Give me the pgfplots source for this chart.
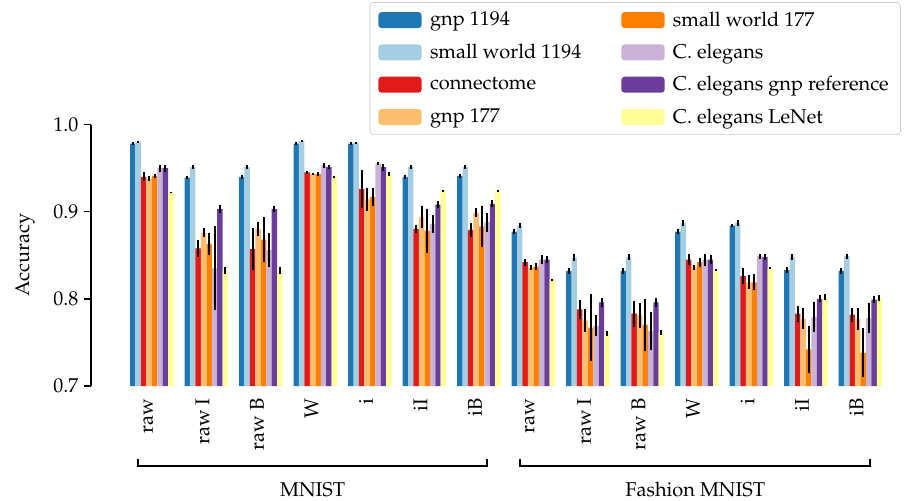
\documentclass[border=0pt]{standalone}
\usepackage[T1]{fontenc}
\usepackage{mathpazo}
\usepackage{pgfplots}
\usepackage{pgfplotstable}
\pgfplotsset{compat=1.18}

\definecolor{cA}{HTML}{1F78B4}
\definecolor{cB}{HTML}{A6CEE3}
\definecolor{cC}{HTML}{E31A1C}
\definecolor{cD}{HTML}{FDBF6F}
\definecolor{cE}{HTML}{FF7F00}
\definecolor{cF}{HTML}{CAB2D6}
\definecolor{cG}{HTML}{6A3D9A}
\definecolor{cH}{HTML}{FFFF99}

% gnp 1194
\pgfplotstableread{
x y e
0 0.978 0.0015
1 0.939 0.002
2 0.940 0.002
3 0.978 0.002
4 0.978 0.0015
5 0.940 0.002
6 0.941 0.002
7 0.877 0.003
8 0.832 0.003
9 0.832 0.003
10 0.877 0.003
11 0.884 0.002
12 0.833 0.003
13 0.832 0.003
}\tA
% small world 1194
\pgfplotstableread{
x y e
0 0.980 0.001
1 0.951 0.002
2 0.951 0.002
3 0.981 0.001
4 0.979 0.001
5 0.951 0.002
6 0.951 0.002
7 0.884 0.003
8 0.847 0.004
9 0.848 0.003
10 0.887 0.003
11 0.887 0.003
12 0.848 0.003
13 0.849 0.003
}\tB
% connectome
\pgfplotstableread{
x y e
0 0.940 0.005
1 0.858 0.010
2 0.857 0.024
3 0.945 0.002
4 0.926 0.022
5 0.880 0.005
6 0.879 0.008
7 0.842 0.004
8 0.788 0.011
9 0.783 0.015
10 0.845 0.006
11 0.826 0.009
12 0.783 0.009
13 0.782 0.008
}\tC
% gnp 177
\pgfplotstableread{
x y e
0 0.938 0.003
1 0.876 0.005
2 0.880 0.008
3 0.943 0.001
4 0.914 0.013
5 0.894 0.013
6 0.899 0.005
7 0.836 0.003
8 0.775 0.013
9 0.781 0.014
10 0.836 0.003
11 0.819 0.008
12 0.777 0.012
13 0.777 0.013
}\tD
% small world 177
\pgfplotstableread{
x y e
0 0.941 0.002
1 0.863 0.013
2 0.868 0.026
3 0.943 0.002
4 0.917 0.010
5 0.878 0.025
6 0.883 0.023
7 0.837 0.004
8 0.767 0.038
9 0.770 0.030
10 0.842 0.005
11 0.819 0.009
12 0.742 0.027
13 0.738 0.028
}\tE
% C. elegans
\pgfplotstableread{
x y e
0 0.950 0.004
1 0.835 0.048
2 0.856 0.019
3 0.953 0.003
4 0.955 0.002
5 0.886 0.010
6 0.888 0.011
7 0.845 0.005
8 0.769 0.012
9 0.763 0.022
10 0.845 0.007
11 0.849 0.003
12 0.779 0.017
13 0.778 0.017
}\tF
% C. elegans gnp reference
\pgfplotstableread{
x y e
0 0.950 0.004
1 0.903 0.005
2 0.903 0.003
3 0.951 0.002
4 0.951 0.004
5 0.908 0.004
6 0.909 0.004
7 0.845 0.004
8 0.796 0.005
9 0.796 0.005
10 0.845 0.005
11 0.848 0.003
12 0.800 0.004
13 0.799 0.004
}\tG
% C. elegans LeNet
\pgfplotstableread{
x y e
0 0.922 0.001
1 0.832 0.004
2 0.833 0.004
3 0.940 0.001
4 0.943 0.002
5 0.924 0.001
6 0.924 0.001
7 0.822 0.001
8 0.760 0.003
9 0.761 0.003
10 0.833 0.001
11 0.835 0.001
12 0.802 0.003
13 0.801 0.003
}\tH

\pgfplotsset{
  mybar/.style={fill=#1, draw=none,
    legend image code/.code={\fill[##1] (0pt,-4.8pt) rectangle (26pt,4.8pt);},
    error bars/y dir=both, error bars/y explicit, error bars/error mark=none,
    error bars/error bar style={line width=1.2pt, black}},
}

\begin{document}
\begin{tikzpicture}[font=\fontsize{12}{14.4}\selectfont]
\begin{axis}[
  name=ax,
  scale only axis,
  width=487.8pt, height=156.9pt,
  xmin=-1.116, xmax=13.80,
  ymin=0.7, ymax=1.0,
  axis y line*=left, axis x line*=bottom,
  x axis line style={draw=none},
  axis line style={line width=0.8pt},
  tick align=outside,
  major tick length=4pt,
  ytick={0.7,0.8,0.9,1.0},
  y tick label style={/pgf/number format/.cd, fixed, fixed zerofill, precision=1, /tikz/.cd},
  ytick style={line width=0.8pt, black},
  xtick={-0.07,0.93,1.93,2.93,3.93,4.93,5.93,6.93,7.93,8.93,9.93,10.93,11.93,12.93},
  xticklabels={raw,raw I,raw B,W,i,iI,iB,raw,raw I,raw B,W,i,iI,iB},
  xtick style={draw=none},
  xticklabel style={rotate=90, anchor=east},
  ylabel={Accuracy},
  ylabel style={at={(axis description cs:-0.0812,0.5)}, anchor=center},
  ybar, bar width=0.1,
  legend columns=2,
  legend cell align=left,
  legend style={at={(0.996,1.468)}, anchor=north east,
    draw=black!20, rounded corners=2pt, fill=white,
    inner xsep=5pt, inner ysep=3.5pt,
    /tikz/every even column/.append style={column sep=22pt},
    /tikz/every odd column/.append style={column sep=3pt},
    row sep=5.2pt},
]
\addplot[mybar=cA, bar shift=-0.35] table[x=x,y=y,y error=e]{\tA};
\addlegendentry{gnp 1194}
\addplot[mybar=cE, bar shift=0.05] table[x=x,y=y,y error=e]{\tE};
\addlegendentry{small world 177}
\addplot[mybar=cB, bar shift=-0.25] table[x=x,y=y,y error=e]{\tB};
\addlegendentry{small world 1194}
\addplot[mybar=cF, bar shift=0.15] table[x=x,y=y,y error=e]{\tF};
\addlegendentry{C. elegans}
\addplot[mybar=cC, bar shift=-0.15] table[x=x,y=y,y error=e]{\tC};
\addlegendentry{connectome}
\addplot[mybar=cG, bar shift=0.25] table[x=x,y=y,y error=e]{\tG};
\addlegendentry{C. elegans gnp reference}
\addplot[mybar=cD, bar shift=-0.05] table[x=x,y=y,y error=e]{\tD};
\addlegendentry{gnp 177}
\addplot[mybar=cH, bar shift=0.35] table[x=x,y=y,y error=e]{\tH};
\addlegendentry{C. elegans LeNet}

\coordinate (m1) at (axis cs:-0.253,0.6162);
\coordinate (m2) at (axis cs:-0.253,0.6082);
\coordinate (m3) at (axis cs:6.15,0.6082);
\coordinate (m4) at (axis cs:6.15,0.6162);
\coordinate (f1) at (axis cs:6.756,0.6162);
\coordinate (f2) at (axis cs:6.756,0.6082);
\coordinate (f3) at (axis cs:13.18,0.6082);
\coordinate (f4) at (axis cs:13.18,0.6162);
\coordinate (mt) at (axis cs:2.95,0.5737);
\coordinate (ft) at (axis cs:9.97,0.5737);
\end{axis}
\draw[line width=1.2pt] (m1) -- (m2) -- (m3) -- (m4);
\draw[line width=1.2pt] (f1) -- (f2) -- (f3) -- (f4);
\node[anchor=base, inner sep=0pt] at (mt) {MNIST};
\node[anchor=base, inner sep=0pt] at (ft) {Fashion MNIST};
\path ([shift={(-54.6pt,-68.4pt)}]ax.south west) rectangle ([shift={(487.8pt,231.6pt)}]ax.south west);
\end{tikzpicture}
\end{document}
